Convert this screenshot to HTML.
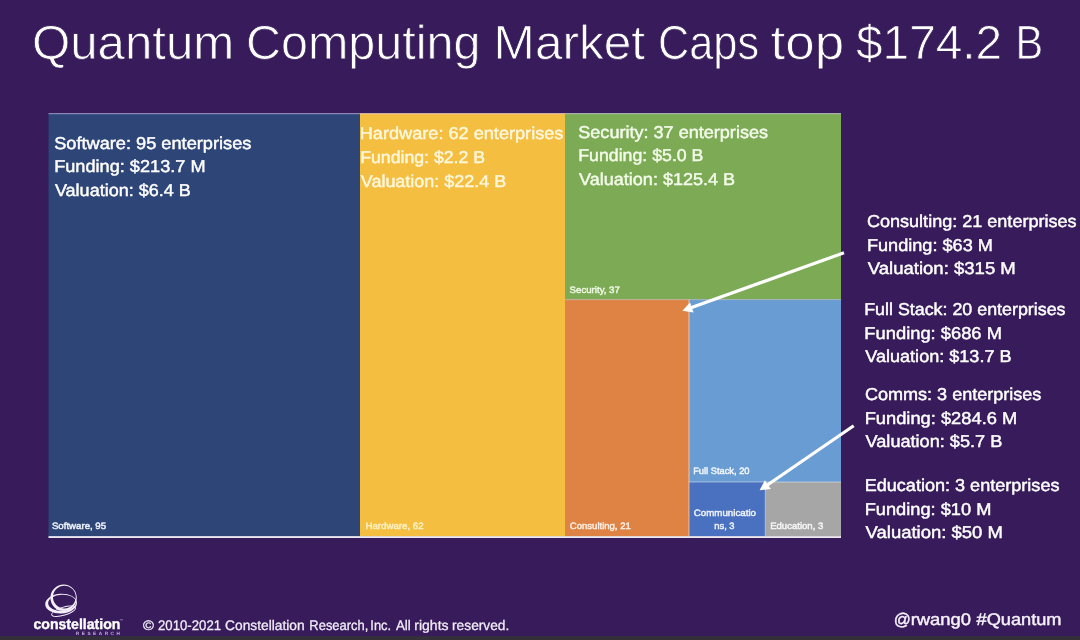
<!DOCTYPE html>
<html lang="en">
<head>
<meta charset="utf-8">
<title>Quantum Computing Market Caps top $174.2 B</title>
<style>
html,body{margin:0;padding:0;background:#371b5a;overflow:hidden}
body{width:1080px;height:640px;position:relative;font-family:"Liberation Sans",sans-serif}
svg{display:block;position:absolute;left:0;top:0}
svg text{font-family:"Liberation Sans",sans-serif;white-space:pre;text-rendering:geometricPrecision}
</style>
</head>
<body>
<svg width="1080" height="640" viewBox="0 0 1080 640">
<defs><filter id="soft" x="-2%" y="-2%" width="104%" height="104%" color-interpolation-filters="sRGB"><feGaussianBlur stdDeviation="0.4"/></filter></defs>
<g filter="url(#soft)">
<rect x="-10" y="-10" width="1100" height="660" fill="#371b5a"/>
<g shape-rendering="geometricPrecision">
<rect x="48.5" y="113.3" width="311.5" height="422.9" fill="#2d4577"/>
<rect x="360" y="113.3" width="205.0" height="422.9" fill="#f4be41"/>
<rect x="565" y="113.3" width="276.0" height="186.3" fill="#7dab55"/>
<rect x="565" y="299.6" width="124.0" height="236.6" fill="#de8344"/>
<rect x="689" y="299.6" width="152.0" height="182.4" fill="#699cd2"/>
<rect x="689" y="482" width="76.3" height="54.2" fill="#4a70c0"/>
<rect x="765.3" y="482" width="75.7" height="54.2" fill="#a6a6a6"/>
<g stroke="#ffffff" stroke-opacity="0.45" stroke-width="1" fill="none">
<line x1="48.5" y1="113.7" x2="841" y2="113.7" stroke="#e6d8ff" stroke-opacity="0.6"/>
<line x1="565" y1="299.6" x2="841" y2="299.6" stroke-opacity="0.45"/>
<line x1="689" y1="299.6" x2="689" y2="536.2" stroke-opacity="0.55"/>
<line x1="689" y1="482" x2="841" y2="482" stroke-opacity="0.45"/>
<line x1="765.3" y1="482" x2="765.3" y2="536.2" stroke-opacity="0.5"/>
</g>
<rect x="48.5" y="536.2" width="792.5" height="1.7" fill="#ffffff"/>
</g>
<line x1="844.0" y1="252.8" x2="690.9" y2="307.8" stroke="#ffffff" stroke-width="3.2"/>
<polygon points="682.4,310.8 690.0,302.5 693.6,312.4" fill="#ffffff"/>
<line x1="853.7" y1="425.8" x2="767.0" y2="485.2" stroke="#ffffff" stroke-width="3.2"/>
<polygon points="759.6,490.3 764.9,480.3 770.8,489.0" fill="#ffffff"/>
<text font-size="48" fill="#ffffff" stroke="#371b5a" stroke-width="0.8"><tspan x="31.94" y="58.80" textLength="202.28" lengthAdjust="spacingAndGlyphs">Quantum</tspan> <tspan x="245.92" y="58.80" textLength="234.49" lengthAdjust="spacingAndGlyphs">Computing</tspan> <tspan x="493.61" y="58.80" textLength="151.52" lengthAdjust="spacingAndGlyphs">Market</tspan> <tspan x="658.02" y="58.80" textLength="101.04" lengthAdjust="spacingAndGlyphs">Caps</tspan> <tspan x="770.60" y="58.80" textLength="73.57" lengthAdjust="spacingAndGlyphs">top</tspan> <tspan x="856.00" y="58.80" textLength="146.20" lengthAdjust="spacingAndGlyphs">$174.2</tspan> <tspan x="1015.53" y="58.80" textLength="27.66" lengthAdjust="spacingAndGlyphs">B</tspan></text>
<text font-size="17.2" fill="#ffffff" stroke="#ffffff" stroke-width="0.45" x="54.17" y="148.60" textLength="197.24" lengthAdjust="spacingAndGlyphs">Software: 95 enterprises</text>
<text font-size="17.2" fill="#ffffff" stroke="#ffffff" stroke-width="0.45" x="54.18" y="172.40" textLength="151.36" lengthAdjust="spacingAndGlyphs">Funding: $213.7 M</text>
<text font-size="17.2" fill="#ffffff" stroke="#ffffff" stroke-width="0.45" x="54.96" y="196.10" textLength="135.71" lengthAdjust="spacingAndGlyphs">Valuation: $6.4 B</text>
<text font-size="17.2" fill="#fff7dc" stroke="#fff7dc" stroke-width="0.45" x="359.78" y="139.20" textLength="203.63" lengthAdjust="spacingAndGlyphs">Hardware: 62 enterprises</text>
<text font-size="17.2" fill="#fff7dc" stroke="#fff7dc" stroke-width="0.45" x="360.21" y="163.00" textLength="124.81" lengthAdjust="spacingAndGlyphs">Funding: $2.2 B</text>
<text font-size="17.2" fill="#fff7dc" stroke="#fff7dc" stroke-width="0.45" x="360.76" y="186.60" textLength="145.47" lengthAdjust="spacingAndGlyphs">Valuation: $22.4 B</text>
<text font-size="17.2" fill="#f3fbea" stroke="#f3fbea" stroke-width="0.45" x="578.27" y="137.50" textLength="189.75" lengthAdjust="spacingAndGlyphs">Security: 37 enterprises</text>
<text font-size="17.2" fill="#f3fbea" stroke="#f3fbea" stroke-width="0.45" x="578.31" y="161.30" textLength="125.12" lengthAdjust="spacingAndGlyphs">Funding: $5.0 B</text>
<text font-size="17.2" fill="#f3fbea" stroke="#f3fbea" stroke-width="0.45" x="579.06" y="184.90" textLength="156.08" lengthAdjust="spacingAndGlyphs">Valuation: $125.4 B</text>
<text font-size="17.2" fill="#ffffff" stroke="#ffffff" stroke-width="0.45" x="866.98" y="227.40" textLength="209.58" lengthAdjust="spacingAndGlyphs">Consulting: 21 enterprises</text>
<text font-size="17.2" fill="#ffffff" stroke="#ffffff" stroke-width="0.45" x="866.98" y="250.80" textLength="125.87" lengthAdjust="spacingAndGlyphs">Funding: $63 M</text>
<text font-size="17.2" fill="#ffffff" stroke="#ffffff" stroke-width="0.45" x="867.77" y="274.00" textLength="148.01" lengthAdjust="spacingAndGlyphs">Valuation: $315 M</text>
<text font-size="17.2" fill="#ffffff" stroke="#ffffff" stroke-width="0.45" x="864.20" y="315.30" textLength="201.34" lengthAdjust="spacingAndGlyphs">Full Stack: 20 enterprises</text>
<text font-size="17.2" fill="#ffffff" stroke="#ffffff" stroke-width="0.45" x="864.37" y="338.90" textLength="137.57" lengthAdjust="spacingAndGlyphs">Funding: $686 M</text>
<text font-size="17.2" fill="#ffffff" stroke="#ffffff" stroke-width="0.45" x="865.26" y="362.30" textLength="146.28" lengthAdjust="spacingAndGlyphs">Valuation: $13.7 B</text>
<text font-size="17.2" fill="#ffffff" stroke="#ffffff" stroke-width="0.45" x="864.98" y="399.90" textLength="176.40" lengthAdjust="spacingAndGlyphs">Comms: 3 enterprises</text>
<text font-size="17.2" fill="#ffffff" stroke="#ffffff" stroke-width="0.45" x="864.67" y="423.70" textLength="152.58" lengthAdjust="spacingAndGlyphs">Funding: $284.6 M</text>
<text font-size="17.2" fill="#ffffff" stroke="#ffffff" stroke-width="0.45" x="865.56" y="447.30" textLength="136.71" lengthAdjust="spacingAndGlyphs">Valuation: $5.7 B</text>
<text font-size="17.2" fill="#ffffff" stroke="#ffffff" stroke-width="0.45" x="864.69" y="491.30" textLength="194.79" lengthAdjust="spacingAndGlyphs">Education: 3 enterprises</text>
<text font-size="17.2" fill="#ffffff" stroke="#ffffff" stroke-width="0.45" x="864.67" y="515.10" textLength="126.69" lengthAdjust="spacingAndGlyphs">Funding: $10 M</text>
<text font-size="17.2" fill="#ffffff" stroke="#ffffff" stroke-width="0.45" x="865.57" y="538.40" textLength="137.34" lengthAdjust="spacingAndGlyphs">Valuation: $50 M</text>
<text font-size="9.3" fill="#eef1f8" stroke="#eef1f8" stroke-width="0.45" x="51.94" y="529.10" textLength="54.17" lengthAdjust="spacingAndGlyphs">Software, 95</text>
<text font-size="9.3" fill="#fdf0c0" stroke="#fdf0c0" stroke-width="0.45" x="365.48" y="529.10" textLength="58.15" lengthAdjust="spacingAndGlyphs">Hardware, 62</text>
<text font-size="9.3" fill="#eef7e4" stroke="#eef7e4" stroke-width="0.45" x="569.64" y="292.70" textLength="50.22" lengthAdjust="spacingAndGlyphs">Security, 37</text>
<text font-size="9.3" fill="#fdeee2" stroke="#fdeee2" stroke-width="0.45" x="569.84" y="528.90" textLength="60.95" lengthAdjust="spacingAndGlyphs">Consulting, 21</text>
<text font-size="9.3" fill="#f0f6fc" stroke="#f0f6fc" stroke-width="0.45" x="693.20" y="474.40" textLength="56.28" lengthAdjust="spacingAndGlyphs">Full Stack, 20</text>
<text font-size="9.3" fill="#eef2fb" stroke="#eef2fb" stroke-width="0.45"><tspan x="693.74" y="515.60" textLength="62.24" lengthAdjust="spacingAndGlyphs">Communicatio</tspan><tspan x="714.35" y="528.90" textLength="20.21" lengthAdjust="spacingAndGlyphs">ns, 3</tspan></text>
<text font-size="9.3" fill="#f6f6f6" stroke="#f6f6f6" stroke-width="0.45" x="770.19" y="528.90" textLength="53.11" lengthAdjust="spacingAndGlyphs">Education, 3</text>
<text font-size="13.8" fill="#f1ebf7" stroke="#f1ebf7" stroke-width="0.3"><tspan x="142.90" y="629.60" textLength="10.92" lengthAdjust="spacingAndGlyphs">©</tspan> <tspan x="158.02" y="629.60" textLength="63.04" lengthAdjust="spacingAndGlyphs">2010-2021</tspan> <tspan x="225.10" y="629.60" textLength="79.56" lengthAdjust="spacingAndGlyphs">Constellation</tspan> <tspan x="309.36" y="629.60" textLength="58.90" lengthAdjust="spacingAndGlyphs">Research,</tspan> <tspan x="370.37" y="629.60" textLength="20.77" lengthAdjust="spacingAndGlyphs">Inc.</tspan> <tspan x="395.94" y="629.60" textLength="14.88" lengthAdjust="spacingAndGlyphs">All</tspan> <tspan x="414.34" y="629.60" textLength="34.21" lengthAdjust="spacingAndGlyphs">rights</tspan> <tspan x="452.05" y="629.60" textLength="57.26" lengthAdjust="spacingAndGlyphs">reserved.</tspan></text>
<text font-size="16.8" fill="#f6f1fa" stroke="#f6f1fa" stroke-width="0.45"><tspan x="893.80" y="625.00" textLength="17.10" lengthAdjust="spacingAndGlyphs">@</tspan><tspan x="910.68" y="625.00" textLength="60.35" lengthAdjust="spacingAndGlyphs">rwang0</tspan> <tspan x="976.57" y="625.00" textLength="84.96" lengthAdjust="spacingAndGlyphs">#Quantum</tspan></text>
<text font-size="14.6" font-weight="bold" fill="#ffffff" stroke="#ffffff" stroke-width="0.35" x="33.46" y="629.00" textLength="86.98" lengthAdjust="spacingAndGlyphs">constellation</text>
<text font-size="4.7" font-weight="bold" fill="#c0aedb" x="75.78" y="635.30" textLength="44.14" lengthAdjust="spacing">RESEARCH</text>
<text font-size="4.5" fill="#a892c8" x="119.23" y="621.50" textLength="4.24" lengthAdjust="spacingAndGlyphs">™</text>
<g fill="#f4effa" fill-rule="evenodd" stroke="none">
<path d="M50.40,597.80 a13.20,13.20 0 1,0 26.40,0 a13.20,13.20 0 1,0 -26.40,0 Z M52.95,597.05 a11.40,11.40 0 1,0 22.80,0 a11.40,11.40 0 1,0 -22.80,0 Z"/>
<path transform="rotate(-3 61.1 603.6)" d="M45.20,603.60 a15.90,9.90 0 1,0 31.80,0 a15.90,9.90 0 1,0 -31.80,0 Z M48.20,602.80 a13.90,8.00 0 1,0 27.80,0 a13.90,8.00 0 1,0 -27.80,0 Z"/>
<path transform="rotate(-17 63.6 611.3)" d="M50.70,611.30 a12.90,4.50 0 1,0 25.80,0 a12.90,4.50 0 1,0 -25.80,0 Z M51.70,611.20 a12.00,3.55 0 1,0 24.00,0 a12.00,3.55 0 1,0 -24.00,0 Z"/>
</g>
<rect x="-10" y="636.1" width="1100" height="14" fill="#34303a"/>
</g>
</svg>
</body>
</html>
